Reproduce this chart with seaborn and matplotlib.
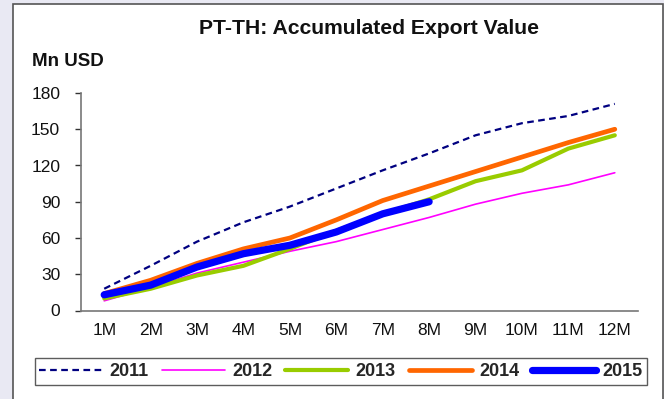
import matplotlib
matplotlib.use("Agg")
import matplotlib.pyplot as plt
from matplotlib.patches import Rectangle
import seaborn as sns
import pandas as pd

months = ["1M", "2M", "3M", "4M", "5M", "6M", "7M", "8M", "9M", "10M", "11M", "12M"]
v2011 = [18, 37, 57, 73, 86, 101, 116, 130, 145, 155, 161, 171]
v2012 = [8, 19, 31, 40, 49, 57, 67, 77, 88, 97, 104, 114]
v2013 = [10, 18, 29, 37, 51, 66, 80, 92, 107, 116, 134, 145]
v2014 = [14, 25, 39, 51, 60, 75, 91, 103, 115, 127, 139, 150]
v2015 = [13, 21, 36, 47, 54, 65, 80, 90]
y_ticks = [0, 30, 60, 90, 120, 150, 180]

series = {"2011": v2011, "2012": v2012, "2013": v2013, "2014": v2014, "2015": v2015}
colors = {"2011": "#000080", "2012": "#ff00ff", "2013": "#99cc00", "2014": "#ff6600", "2015": "#0000ff"}
widths = {"2011": 1.6, "2012": 1.2, "2013": 3.0, "2014": 3.4, "2015": 5.2}
styles = {"2011": (0, (3, 2)), "2012": "-", "2013": "-", "2014": "-", "2015": "-"}

rows = []
for year, vals in series.items():
    for i, v in enumerate(vals):
        rows.append({"year": year, "pos": i, "value": v})
df = pd.DataFrame(rows)

sns.set_theme(style="white")
plt.rcParams["font.family"] = ["Liberation Sans", "DejaVu Sans"]

fig = plt.figure(figsize=(6.64, 3.99), dpi=100, facecolor="#e9e9f3")
# white chart panel with a thin grey frame
fig.patches.append(Rectangle((13 / 664, -0.05), (650 / 664), 1.05 - 4 / 399,
                             transform=fig.transFigure, facecolor="white",
                             edgecolor="#555555", linewidth=1.2, zorder=-10))
ax = fig.add_axes([81 / 664, 1 - 310.5 / 399, (638 - 81) / 664, (310.5 - 93) / 399])
ax.set_facecolor("white")
ax.patch.set_alpha(0)

for year in series:
    sub = df[df["year"] == year]
    sns.lineplot(data=sub, x="pos", y="value", ax=ax, color=colors[year],
                 linewidth=widths[year], linestyle=styles[year], label=year,
                 solid_capstyle="round", dash_capstyle="butt", sort=False)

ax.set_xlim(-0.5, 11.5)
ax.set_ylim(0, 180)
ax.set_yticks(y_ticks)
ax.set_yticklabels([str(t) for t in y_ticks], fontsize=12.5, color="#111111")
ax.set_xticks(range(len(months)))
ax.set_xticklabels(months, fontsize=12.5, color="#111111")
ax.set_xticks([i - 0.5 for i in range(len(months) + 1)], minor=True)
ax.tick_params(axis="x", which="major", length=0, pad=9)
ax.tick_params(axis="x", which="minor", length=5, width=1, color="#333333", direction="out")
ax.tick_params(axis="y", length=4, width=1, color="#333333", direction="out", left=True, pad=11)
ax.set_xlabel("")
ax.set_ylabel("")
for side in ["top", "right"]:
    ax.spines[side].set_visible(False)
for side in ["left", "bottom"]:
    ax.spines[side].set_color("#777777")
    ax.spines[side].set_linewidth(1.2)

fig.text(369 / 664, 1 - 29 / 399, "PT-TH: Accumulated Export Value", ha="center", va="center",
         fontsize=15.2, fontweight="bold", color="#111111")
fig.text(32 / 664, 1 - 61 / 399, "Mn USD", ha="left", va="center", fontsize=13.5,
         fontweight="bold", color="#111111")

ax.get_legend().remove()
handles, labels = ax.get_legend_handles_labels()
leg = fig.legend(handles, labels, loc="center", bbox_to_anchor=(341 / 664, 1 - 371.5 / 399),
                 ncol=5, frameon=True, fancybox=False, handlelength=3.5, columnspacing=0.72,
                 handletextpad=0.4, borderpad=0.25, borderaxespad=0,
                 prop={"weight": "bold", "size": 13})
leg.get_frame().set_edgecolor("#333333")
leg.get_frame().set_linewidth(1.0)

fig.savefig("out.png", dpi=100, facecolor=fig.get_facecolor())
